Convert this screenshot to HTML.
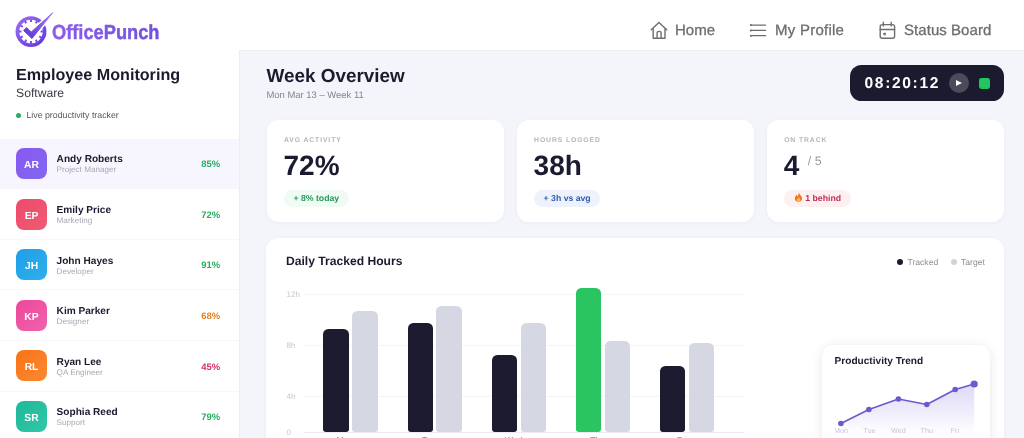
<!DOCTYPE html>
<html lang="en">
<head>
<meta charset="utf-8">
<title>OfficePunch</title>
<style>
*{box-sizing:border-box;margin:0;padding:0}
html,body{width:1024px;height:438px;overflow:hidden;background:#f4f5fb;font-family:"Liberation Sans",sans-serif;color:#1b1b2f}
body{position:relative}
#wrap{position:absolute;left:0;top:0;width:1024px;height:438px;will-change:transform;text-rendering:geometricPrecision}
.abs{position:absolute}
/* header */
#hdr{position:absolute;left:0;top:0;width:1024px;height:50px;background:#fff}
#logo{position:absolute;left:0;top:0}
.nav{position:absolute;top:0;height:50px;font-size:15px;color:#6e6e6e;line-height:1;white-space:nowrap;-webkit-text-stroke:.3px #6e6e6e}
.nav svg{position:absolute;left:0;top:0}
/* sidebar */
#side{position:absolute;left:0;top:50.4px;width:239.6px;height:400px;background:#fff;border-right:1px solid #ededf4}
#side h1{position:absolute;left:16px;top:15.8px;font-size:16.15px;font-weight:700;line-height:18px;color:#1b1b2f;white-space:nowrap}
#side .sub{position:absolute;left:16px;top:35.5px;font-size:12.2px;line-height:15px;color:#3a3a46}
#side .live{position:absolute;left:16px;top:59.4px;font-size:8.8px;line-height:11px;color:#55555f;padding-left:10.4px;white-space:nowrap}
#side .live:before{content:"";position:absolute;left:0;top:3px;width:5px;height:5px;border-radius:50%;background:#27ae60}
.emp{position:absolute;left:0;width:238.6px;height:49.4px}
.emp:after{content:"";position:absolute;left:0;right:0;top:49px;height:1px;background:#f7f7fb}
.emp.act{background:#f7f6fe}
.emp.act:after{display:none}
.emp .av{position:absolute;left:16px;top:8.9px;width:31px;height:31px;border-radius:8px;color:#fff;font-size:10.3px;font-weight:700;text-align:center;line-height:36px;overflow:hidden}
.emp .nm{position:absolute;left:56.6px;top:15.3px;font-size:10.1px;font-weight:700;line-height:12px;color:#1b1b2f;white-space:nowrap}
.emp .rl{position:absolute;left:56.6px;top:26.3px;font-size:8.15px;line-height:10px;color:#a8a8b3;white-space:nowrap}
.emp .pc{position:absolute;right:18.4px;top:20px;font-size:9.45px;font-weight:700;line-height:12px;color:#27ae60}
/* main */
#title{position:absolute;left:266.5px;top:65.8px;font-size:18.9px;font-weight:700;line-height:22px;white-space:nowrap}
#date{position:absolute;left:266.5px;top:89.6px;font-size:9.45px;line-height:12px;color:#83838d;white-space:nowrap}
#timer{position:absolute;left:849.8px;top:64.7px;width:154.7px;height:36px;border-radius:11.5px;background:#1b1b30}
#timer .t{position:absolute;left:14.7px;top:10.1px;font-size:15.6px;font-weight:700;color:#fff;letter-spacing:1.65px;line-height:18px}
#timer .play{position:absolute;left:99px;top:8px;width:20px;height:20px;border-radius:50%;background:#4b4b5c}
#timer .play:after{content:"";position:absolute;left:7.3px;top:7.6px;border-left:6px solid #fff;border-top:3.5px solid transparent;border-bottom:3.5px solid transparent}
#timer .sq{position:absolute;left:129.4px;top:13px;width:11px;height:11px;border-radius:2.4px;background:#22c55e}
.card{position:absolute;top:120px;height:102px;width:237.3px;background:#fff;border-radius:12px;box-shadow:0 1px 4px rgba(30,30,70,.04)}
.card .lb{position:absolute;left:17.5px;top:15.5px;font-size:6.8px;font-weight:700;letter-spacing:.9px;color:#b4b4bc;line-height:9px;white-space:nowrap}
.card .v{position:absolute;left:17px;top:29.2px;font-size:28px;font-weight:700;line-height:34px;color:#1b1b2f;white-space:nowrap}
.card .v small{font-size:12.4px;font-weight:400;color:#9a9aa4;position:relative;top:-10.2px;left:8.5px;letter-spacing:0}
.card .chip{position:absolute;left:17.5px;top:70.2px;height:16.8px;border-radius:9px;font-size:8.7px;font-weight:700;line-height:16.8px;padding:0 9.5px;white-space:nowrap}
#chart{position:absolute;left:266px;top:238px;width:738px;height:230px;background:#fff;border-radius:13px;box-shadow:0 1px 4px rgba(30,30,70,.04)}
#chart h2{position:absolute;left:20px;top:15px;font-size:12.12px;font-weight:700;line-height:16px;white-space:nowrap}
.lg{position:absolute;top:19px;font-size:8.6px;line-height:11px;color:#8e8e95;white-space:nowrap}
.lg i{position:absolute;left:-10.5px;top:1.8px;width:6px;height:6px;border-radius:50%}
.yl{position:absolute;left:20.5px;font-size:8px;line-height:10px;color:#c6c6ce}
.dl{position:absolute;top:196.6px;width:40px;text-align:center;font-size:8.8px;line-height:11px}
.gl{position:absolute;left:38px;width:440px;height:1px;background:#f5f5f9}
#bars{position:absolute;left:0;top:0;width:500px;height:193.6px}
.bar{position:absolute;bottom:0;width:25.4px;border-radius:5.3px 5.3px 3px 3px}
.bar.d{background:#1c1b30}
.bar.l{background:#d5d8e2}
.bar.g{background:#2ac461}
#trend{position:absolute;left:822.2px;top:345px;width:167.8px;height:120px;background:#fff;border-radius:10px;box-shadow:0 2px 12px rgba(30,30,70,.10),0 0 1px rgba(30,30,70,.08)}
#trend h3{position:absolute;left:12.4px;top:11px;font-size:10.1px;font-weight:700;line-height:12px;white-space:nowrap}
</style>
</head>
<body>
<div id="wrap">
<div id="hdr">
  <svg id="logo" width="170" height="50" viewBox="0 0 170 50">
    <defs>
      <linearGradient id="lgA" x1="0" y1="0" x2="1" y2="1"><stop offset="0" stop-color="#9a6cf4"/><stop offset="1" stop-color="#6238dc"/></linearGradient>
      <linearGradient id="lgC" x1="1" y1="0" x2="0" y2="1"><stop offset="0" stop-color="#a57cf6"/><stop offset="1" stop-color="#5a32d4"/></linearGradient>
      <linearGradient id="lgB" x1="0" y1="0" x2="1" y2="0"><stop offset="0" stop-color="#8f5cee"/><stop offset="1" stop-color="#6f52dc"/></linearGradient>
    </defs>
    <circle cx="31" cy="31.6" r="13.6" fill="none" stroke="url(#lgA)" stroke-width="3.7"/>
    <path d="M31.00 19.40L31.00 22.10M37.10 21.03L35.75 23.37M41.57 25.50L39.23 26.85M43.20 31.60L40.50 31.60M41.57 37.70L39.23 36.35M37.10 42.17L35.75 39.83M31.00 43.80L31.00 41.10M24.90 42.17L26.25 39.83M20.43 37.70L22.77 36.35M18.80 31.60L21.50 31.60M20.43 25.50L22.77 26.85M24.90 21.03L26.25 23.37" stroke="#7a50e6" stroke-width="2" fill="none"/>
    <path d="M23.6 30.5 L26.6 27.5 L31.2 32.1 L52.6 12.8 L32 38.5 Z" fill="#fff" stroke="#fff" stroke-width="3.6" stroke-linejoin="round"/>
    <path d="M23.6 30.5 L26.6 27.5 L31.2 32.1 L52.6 12.8 L32 38.5 Z" fill="url(#lgC)" stroke="url(#lgC)" stroke-width="1" stroke-linejoin="round"/>
    <text x="52" y="39.4" font-family="Liberation Sans, sans-serif" font-weight="700" font-size="20.5" fill="url(#lgB)" stroke="url(#lgB)" stroke-width=".45" textLength="107.5" lengthAdjust="spacingAndGlyphs">OfficePunch</text>
  </svg>
  <div class="nav" style="left:649px;width:70px">
    <svg width="20" height="50" viewBox="0 0 20 50" fill="none" stroke="#6e6e6e" stroke-width="1.4" stroke-linejoin="round" stroke-linecap="round"><path d="M2.2 29.8 L9.9 22.6 L17.8 29.8 M4.2 28.4 V38.2 H16 V28.4 M8.1 38.2 V33 Q8.1 31.4 10.1 31.4 Q12.1 31.4 12.1 33 V38.2"/></svg>
    <span style="position:absolute;left:26px;top:23.1px">Home</span>
  </div>
  <div class="nav" style="left:749px;width:100px">
    <svg width="20" height="50" viewBox="0 0 20 50" fill="none" stroke="#6e6e6e" stroke-width="1.3" stroke-linecap="round"><path d="M1.6 25.1 H16.6 M1.6 30.4 H16.6 M1.6 35.7 H16.6"/><g fill="#6e6e6e" stroke="none"><circle cx="1.9" cy="25.1" r="1"/><circle cx="1.9" cy="30.4" r="1"/><circle cx="1.9" cy="35.7" r="1"/></g></svg>
    <span style="position:absolute;left:26px;top:23.1px;letter-spacing:.25px">My Profile</span>
  </div>
  <div class="nav" style="left:878px;width:120px">
    <svg width="20" height="50" viewBox="0 0 20 50" fill="none" stroke="#6e6e6e" stroke-width="1.4" stroke-linejoin="round" stroke-linecap="round"><rect x="2.2" y="24.6" width="14.4" height="13.7" rx="2"/><path d="M2.2 29.5 H16.6 M5.3 22.2 V26 M13.2 22.2 V26"/><rect x="5.4" y="32.8" width="2.4" height="2.4" rx=".5" fill="#6e6e6e" stroke="none"/></svg>
    <span style="position:absolute;left:26px;top:23.1px;letter-spacing:.05px">Status Board</span>
  </div>
</div>

<div id="side">
  <h1>Employee Monitoring</h1>
  <div class="sub">Software</div>
  <div class="live">Live productivity tracker</div>

  <div class="emp act" style="top:88.8px"><div class="av" style="background:linear-gradient(135deg,#8a58f4,#8068ec)">AR</div><div class="nm">Andy Roberts</div><div class="rl">Project Manager</div><div class="pc">85%</div></div>
  <div class="emp" style="top:139.4px"><div class="av" style="background:linear-gradient(135deg,#ef4a6a,#ee5b74)">EP</div><div class="nm">Emily Price</div><div class="rl">Marketing</div><div class="pc">72%</div></div>
  <div class="emp" style="top:190.0px"><div class="av" style="background:linear-gradient(135deg,#1e9fe8,#2fb0ea)">JH</div><div class="nm">John Hayes</div><div class="rl">Developer</div><div class="pc">91%</div></div>
  <div class="emp" style="top:240.6px"><div class="av" style="background:linear-gradient(135deg,#ec4899,#f062ae)">KP</div><div class="nm">Kim Parker</div><div class="rl">Designer</div><div class="pc" style="color:#e67e22">68%</div></div>
  <div class="emp" style="top:291.2px"><div class="av" style="background:linear-gradient(135deg,#f97316,#f98a34)">RL</div><div class="nm">Ryan Lee</div><div class="rl">QA Engineer</div><div class="pc" style="color:#d6336c">45%</div></div>
  <div class="emp" style="top:341.8px"><div class="av" style="background:linear-gradient(135deg,#1fb89a,#32c6a8)">SR</div><div class="nm">Sophia Reed</div><div class="rl">Support</div><div class="pc">79%</div></div>
</div>

<div style="position:absolute;left:240px;top:50px;width:784px;height:1px;background:#eeeef3"></div>
<div id="title">Week Overview</div>
<div id="date">Mon Mar 13 – Week 11</div>
<div id="timer"><div class="t">08:20:12</div><div class="play"></div><div class="sq"></div></div>

<div class="card" style="left:266.5px"><div class="lb">AVG ACTIVITY</div><div class="v">72%</div><div class="chip" style="background:#f0fbf4;color:#27985a">+ 8% today</div></div>
<div class="card" style="left:516.6px"><div class="lb">HOURS LOGGED</div><div class="v">38h</div><div class="chip" style="background:#edf2fc;color:#2f5fb3">+ 3h vs avg</div></div>
<div class="card" style="left:766.7px"><div class="lb">ON TRACK</div><div class="v">4<small>/ 5</small></div><div class="chip" style="background:#fdf0f0;color:#c22d5c"><svg width="9" height="10" viewBox="0 0 18 20" style="position:relative;top:1.2px;margin-right:2.6px"><path d="M9.5 0.5C10 4 14.5 6.5 15.8 11.2C17 16 13.8 19.6 9 19.6C4.2 19.6 1 16.4 1.8 12C2.3 9.4 4 8 4.6 5.6C5.8 6.6 6.4 7.8 6.6 9C8.4 7 9.8 4 9.5 0.5Z" fill="#f4702a"/><path d="M9.2 9.5C11 12 13 13.2 12.6 15.8C12.3 18 10.8 19.2 9 19.2C7 19.2 5.4 17.8 5.6 15.6C5.8 14 6.8 13.2 7.2 11.8C7.9 12.3 8.2 12.9 8.3 13.6C9 12.6 9.4 11.2 9.2 9.5Z" fill="#fcc234"/></svg>1 behind</div></div>

<div id="chart">
  <h2>Daily Tracked Hours</h2>
  <div class="lg" style="left:641.5px"><i style="background:#1b1b2f"></i>Tracked</div>
  <div class="lg" style="left:695px"><i style="background:#d3d3da"></i>Target</div>

  <div class="yl" style="top:51.6px">12h</div>
  <div class="yl" style="top:102.6px">8h</div>
  <div class="yl" style="top:153.6px">4h</div>
  <div class="yl" style="top:189.5px">0</div>
  <div class="gl" style="top:56px"></div>
  <div class="gl" style="top:107px"></div>
  <div class="gl" style="top:158px"></div>
  <div class="gl" style="top:193.6px;background:#ececf1"></div>

  <div class="dl" style="left:59.1px;color:#8e8e98">Mon</div>
  <div class="dl" style="left:143.3px;color:#8e8e98">Tue</div>
  <div class="dl" style="left:227.6px;color:#8e8e98">Wed</div>
  <div class="dl" style="left:311.8px;color:#2ac461">Thu</div>
  <div class="dl" style="left:395.8px;color:#8e8e98">Fri</div>
  <div id="bars">
    <div class="bar d" style="left:57.3px;height:102.3px"></div>
    <div class="bar l" style="left:86.2px;height:121.1px"></div>
    <div class="bar d" style="left:141.5px;height:109.1px"></div>
    <div class="bar l" style="left:170.4px;height:125.7px"></div>
    <div class="bar d" style="left:225.8px;height:77.1px"></div>
    <div class="bar l" style="left:254.7px;height:108.8px"></div>
    <div class="bar g" style="left:310px;height:143.2px"></div>
    <div class="bar l" style="left:338.9px;height:90.4px"></div>
    <div class="bar d" style="left:393.9px;height:66.1px"></div>
    <div class="bar l" style="left:423px;height:88.9px"></div>
  </div>
</div>

<div id="trend">
  <h3>Productivity Trend</h3>
  <svg class="abs" style="left:12.6px;top:0" width="150" height="94" viewBox="12.6 0 150 94">
    <defs><linearGradient id="tg" x1="0" y1="0" x2="0" y2="1"><stop offset="0" stop-color="#7c6ae0" stop-opacity=".26"/><stop offset="1" stop-color="#7c6ae0" stop-opacity="0"/></linearGradient></defs>
    <path d="M18.5 78.5 L46.5 64.5 L76 54 L104.4 59.5 L132.8 44.5 L151.8 39 L151.8 90 L18.5 90 Z" fill="url(#tg)"/>
    <path d="M18.5 78.5 L46.5 64.5 L76 54 L104.4 59.5 L132.8 44.5 L151.8 39" fill="none" stroke="#6a5acd" stroke-width="1.6" stroke-linejoin="round"/>
    <g fill="#6a5acd"><circle cx="18.5" cy="78.5" r="2.8"/><circle cx="46.5" cy="64.5" r="2.8"/><circle cx="76" cy="54" r="2.8"/><circle cx="104.4" cy="59.5" r="2.8"/><circle cx="132.8" cy="44.5" r="2.8"/><circle cx="151.8" cy="39" r="3.6"/></g>
    <g font-family="Liberation Sans, sans-serif" font-size="7.2" fill="#c6c6ce" text-anchor="middle"><text x="18.5" y="87.5">Mon</text><text x="47" y="87.5">Tue</text><text x="76" y="87.5">Wed</text><text x="104.4" y="87.5">Thu</text><text x="132.5" y="87.5">Fri</text></g>
  </svg>
</div>
</div>
</body>
</html>
